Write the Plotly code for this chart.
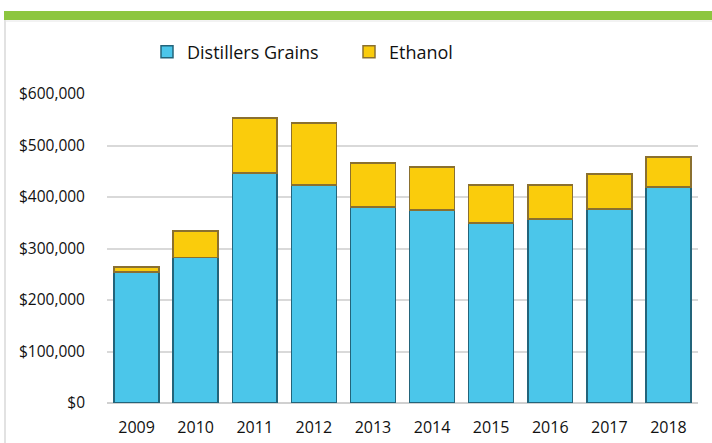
import plotly.graph_objects as go

years = ["2009", "2010", "2011", "2012", "2013", "2014", "2015", "2016", "2017", "2018"]
distillers_grains = [254000, 283000, 447000, 423000, 381000, 375000, 350000, 357000, 377000, 419000]
ethanol = [10000, 51000, 106000, 121000, 85000, 83000, 73000, 66000, 68000, 59000]
y_ticks = [0, 100000, 200000, 300000, 400000, 500000, 600000]
y_tick_labels = ["$0", "$100,000", "$200,000", "$300,000", "$400,000", "$500,000", "$600,000"]

FONT = "Open Sans"

fig = go.Figure()
fig.add_trace(go.Bar(
    x=years, y=distillers_grains, name="Distillers Grains",
    marker=dict(color="#4BC6EA", line=dict(color="#23647A", width=1.5)),
))
fig.add_trace(go.Bar(
    x=years, y=ethanol, name="Ethanol",
    marker=dict(color="#FACC0C", line=dict(color="#8A7030", width=1.5)),
))

L, R, T, B = 107, 14, 94, 40
W, H = 712, 443
pw, ph = W - L - R, H - T - B

def px_x(x):
    return (x - L) / pw

def px_y(y):
    return (H - B - y) / ph

fig.update_layout(
    width=W, height=H,
    margin=dict(l=L, r=R, t=T, b=B),
    barmode="stack",
    bargap=0.24,
    plot_bgcolor="white",
    paper_bgcolor="white",
    font=dict(family=FONT, size=15, color="#222222"),
    legend=dict(
        orientation="h",
        traceorder="normal",
        x=px_x(147), y=px_y(52), xanchor="left", yanchor="middle",
        font=dict(family=FONT, size=18, color="#111111"),
        entrywidth=157, entrywidthmode="pixels",
        itemwidth=30,
        bgcolor="rgba(0,0,0,0)",
    ),
    xaxis=dict(
        showgrid=False, showline=False, ticks="",
        tickfont=dict(family=FONT, size=16, color="#111111"),
        ticklabelstandoff=13, automargin=False,
    ),
    yaxis=dict(
        range=[0, 600000],
        tickvals=y_ticks, ticktext=y_tick_labels,
        showgrid=True, gridcolor="#D9D9D9", gridwidth=1.5,
        zeroline=True, zerolinecolor="#D0D0D0", zerolinewidth=1.5,
        showline=False, ticks="",
        tickfont=dict(family=FONT, size=15.5, color="#111111"),
        ticklabelstandoff=21, automargin=False,
    ),
    shapes=[
        dict(type="rect", xref="paper", yref="paper",
             x0=px_x(4), x1=px_x(712), y0=px_y(20), y1=px_y(11),
             fillcolor="#8DC63F", line=dict(width=0), layer="above"),
        dict(type="line", xref="paper", yref="paper",
             x0=px_x(5), x1=px_x(5), y0=px_y(20), y1=px_y(443),
             line=dict(color="#D8D8D8", width=1.5)),
        dict(type="line", xref="paper", yref="paper",
             x0=px_x(5), x1=px_x(712), y0=px_y(21), y1=px_y(21),
             line=dict(color="#E6E6E6", width=1)),
    ],
)

fig.write_html(
    "out.html",
    config={"displayModeBar": False},
    post_script="document.body.style.margin='0';document.body.style.overflow='hidden';",
)
